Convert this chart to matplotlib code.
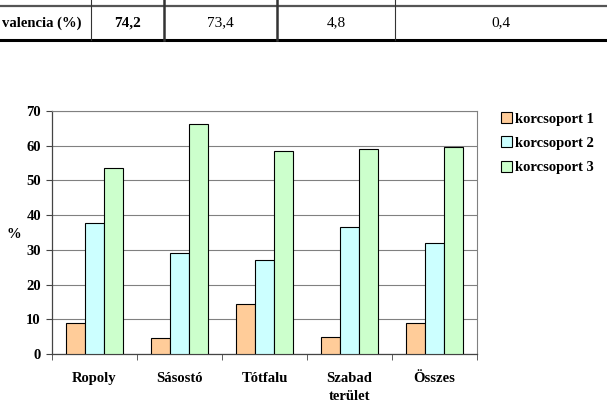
import matplotlib.pyplot as plt
import numpy as np

plt.rcParams['font.family'] = ['Liberation Serif', 'DejaVu Serif']

categories = ['Ropoly', 'Sásostó', 'Tótfalu', 'Szabad\nterület', 'Összes']
series_names = ['korcsoport 1', 'korcsoport 2', 'korcsoport 3']
kor1 = [8.8, 4.7, 14.5, 5.0, 9.0]
kor2 = [37.6, 29.1, 27.2, 36.5, 31.9]
kor3 = [53.6, 66.3, 58.6, 59.0, 59.5]
colors = ['#FFCC99', '#CCFFFF', '#CCFFCC']

table_cells = ['valencia (%)', '74,2', '73,4', '4,8', '0,4']

W, H = 607, 413
fig = plt.figure(figsize=(W / 100, H / 100), dpi=100)

# table fragment at the top
def fx(x):
    return x / W

def fy(y):
    return 1 - y / H

fig.add_artist(plt.Line2D([0, 1], [fy(5.5), fy(5.5)], color='#555555', lw=1.6))
fig.add_artist(plt.Line2D([0, 1], [fy(40), fy(40)], color='black', lw=2.2))
for xv in [91, 164, 277, 395]:
    lw = 1.8 if xv in (164, 277) else 0.8
    fig.add_artist(plt.Line2D([fx(xv), fx(xv)], [fy(0), fy(40)], color='#333333', lw=lw))
cell_x = [82, 127.5, 220.5, 336, 501]
for i, (t, xv) in enumerate(zip(table_cells, cell_x)):
    ha = 'right' if i == 0 else 'center'
    bold = 'bold' if i < 2 else 'normal'
    fs = 10.5 if i == 0 else 11
    fig.text(fx(xv), fy(23), t, ha=ha, va='center', fontsize=fs, fontweight=bold)

# chart
ax = fig.add_axes([fx(52), fy(354), fx(477) - fx(52), fy(111) - fy(354)])
x = np.arange(len(categories))
bw = 0.22
for i, vals in enumerate([kor1, kor2, kor3]):
    ax.bar(x + (i - 1) * bw, vals, bw, color=colors[i], edgecolor='black',
           linewidth=0.8, label=series_names[i], zorder=3)

ax.set_xlim(-0.5, len(categories) - 0.5)
ax.set_ylim(0, 70)
ax.set_yticks(range(0, 71, 10))
ax.yaxis.grid(True, color='#808080', lw=0.8, zorder=0)
ax.set_xticks(x)
ax.set_xticklabels(categories, fontweight='bold', fontsize=10.5, linespacing=1.5)
ax.set_xticks(np.arange(-0.5, len(categories)), minor=True)
ax.tick_params(axis='x', which='major', length=0, pad=13)
ax.tick_params(axis='x', which='minor', length=4, color='#444444')
ax.tick_params(axis='y', length=4, color='#444444', labelsize=10.5, pad=4)
for lab in ax.get_yticklabels():
    lab.set_fontweight('bold')
for s in ['top', 'right']:
    ax.spines[s].set_color('#808080')
    ax.spines[s].set_linewidth(0.8)
for s in ['left', 'bottom']:
    ax.spines[s].set_color('#444444')
    ax.spines[s].set_linewidth(0.9)

fig.text(fx(14), fy(234), '%', ha='center', va='center', fontsize=10.5, fontweight='bold')

leg = fig.legend(loc='upper left', bbox_to_anchor=(fx(488), fy(99)), frameon=False,
                 prop={'weight': 'bold', 'size': 10.5}, handlelength=0.75,
                 handleheight=0.75, handletextpad=0.2, labelspacing=0.75)

fig.savefig('out.png', dpi=100)
